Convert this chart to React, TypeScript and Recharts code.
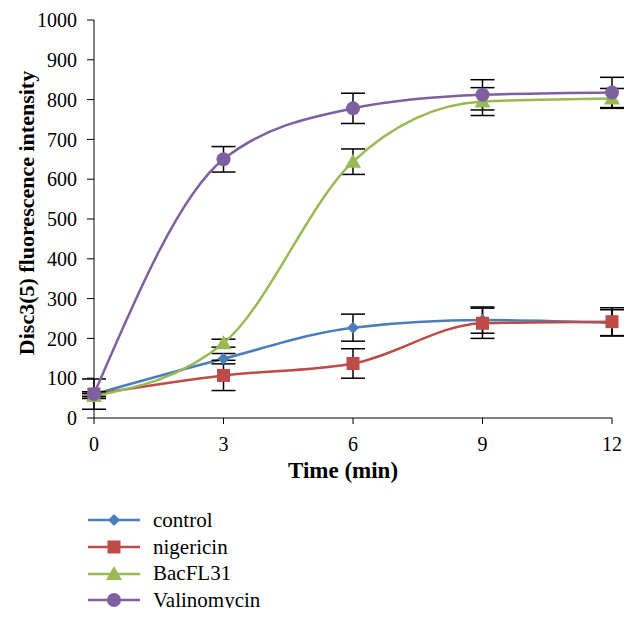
import { ErrorBar, Legend, Line, LineChart, XAxis, YAxis } from "recharts";

const times = [0, 3, 6, 9, 12];
const yTicks = [0, 100, 200, 300, 400, 500, 600, 700, 800, 900, 1000];

const control = [60, 149, 227, 246, 239];
const controlErr = [38, 13, 34, 33, 33];
const nigericin = [60, 107, 137, 238, 242];
const nigericinErr = [6, 38, 37, 38, 35];
const bacFL31 = [55, 188, 644, 795, 803];
const bacFL31Err = [6, 10, 32, 35, 25];
const valinomycin = [60, 650, 778, 812, 818];
const valinomycinErr = [6, 32, 38, 38, 38];

const series = [
  { key: "control", name: "control", color: "#4A7EBB", shape: "diamond", values: control, errors: controlErr },
  { key: "nigericin", name: "nigericin", color: "#BE4B48", shape: "square", values: nigericin, errors: nigericinErr },
  { key: "bac", name: "BacFL31", color: "#98B954", shape: "triangle", values: bacFL31, errors: bacFL31Err },
  { key: "vali", name: "Valinomycin", color: "#7D60A0", shape: "circle", values: valinomycin, errors: valinomycinErr },
];

const data = times.map((t, i) => {
  const row: Record<string, number> = { t };
  series.forEach((s) => {
    row[s.key] = s.values[i];
    row[s.key + "Err"] = s.errors[i];
  });
  return row;
});

const FONT = "'Liberation Serif', 'Times New Roman', serif";

function Marker({ shape, x, y, color }: { shape: string; x: number; y: number; color: string }) {
  switch (shape) {
    case "diamond":
      return <polygon points={`${x},${y - 6} ${x + 6},${y} ${x},${y + 6} ${x - 6},${y}`} fill={color} />;
    case "square":
      return <rect x={x - 6.5} y={y - 6.5} width={13} height={13} fill={color} />;
    case "triangle":
      return <polygon points={`${x},${y - 8} ${x + 8},${y + 6} ${x - 8},${y + 6}`} fill={color} />;
    default:
      return <circle cx={x} cy={y} r={7} fill={color} />;
  }
}

const renderLegend = () => (
  <div style={{ fontFamily: FONT, fontSize: 21, color: "#000", lineHeight: 1 }}>
    {series.map((s) => (
      <div key={s.key} style={{ display: "flex", alignItems: "center", height: 26.7 }}>
        <svg width={60} height={20}>
          <line x1={0} y1={10} x2={52} y2={10} stroke={s.color} strokeWidth={2.5} />
          <Marker shape={s.shape} x={26} y={10} color={s.color} />
        </svg>
        <span style={{ marginLeft: 5 }}>{s.name}</span>
      </div>
    ))}
  </div>
);

const tickStyle = { fontFamily: FONT, fontSize: 20, fill: "#000" };
const titleStyle = { fontFamily: FONT, fontSize: 22, fontWeight: "bold", fill: "#000" };

export default function App() {
  return (
    <LineChart width={628} height={600} data={data} margin={{ top: 12, right: 24, bottom: 130, left: 0 }}>
      <XAxis
        dataKey="t"
        type="number"
        domain={[0, 12]}
        ticks={times}
        tick={tickStyle}
        tickSize={6}
        tickMargin={13}
        height={60}
        axisLine={{ stroke: "#000" }}
        tickLine={{ stroke: "#000" }}
        label={{
          content: () => (
            <text x={335} y={470} textAnchor="middle" style={{ ...titleStyle, fontSize: 23 }}>
              Time (min)
            </text>
          ),
        }}
      />
      <YAxis
        domain={[0, 1000]}
        ticks={yTicks}
        interval={0}
        tick={tickStyle}
        tickSize={7}
        tickMargin={10}
        width={86}
        axisLine={{ stroke: "#000" }}
        tickLine={{ stroke: "#000" }}
        label={{
          content: () => (
            <text
              x={18}
              y={205}
              transform="rotate(-90 18 205)"
              textAnchor="middle"
              dominantBaseline="central"
              style={titleStyle}
            >
              Disc3(5) fluorescence intensity
            </text>
          ),
        }}
      />
      <Legend
        layout="vertical"
        align="center"
        verticalAlign="middle"
        content={renderLegend}
        wrapperStyle={{ left: 80, top: 499, width: "auto" }}
      />
      {series.map((s) => (
        <Line
          key={s.key}
          dataKey={s.key}
          name={s.name}
          type="monotone"
          stroke={s.color}
          strokeWidth={2.5}
          isAnimationActive={false}
          activeDot={false}
          dot={(p: any) => <Marker key={`${s.key}-${p.index}`} shape={s.shape} x={p.cx} y={p.cy} color={s.color} />}
        >
          <ErrorBar dataKey={s.key + "Err"} width={12} stroke="#000" strokeWidth={1.5} direction="y" />
        </Line>
      ))}
    </LineChart>
  );
}
